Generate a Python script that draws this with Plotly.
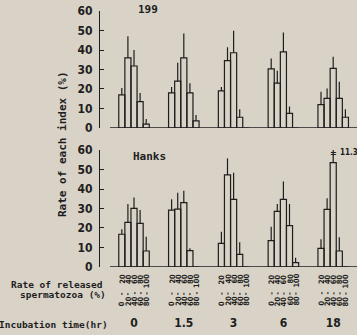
import plotly.graph_objects as go

# ---------------- data ----------------
times = ["0", "1.5", "3", "6", "18"]
range_lo = ["0", "20", "40", "60", "80"]
range_hi = ["20", "40", "60", "80", "100"]

# medium 199 : mean (%) for each released-rate class, over incubation times
m199_0_20 = [17, 18, 19, 30.3, 12]
m199_20_40 = [36, 24, 34.5, 23, 15.2]
m199_40_60 = [31.8, 36, 38.6, 39, 30.6]
m199_60_80 = [13.5, 18, 5.5, 7.5, 15.2]
m199_80_100 = [2, 3.6, 0, 0, 5.5]
sd199_0_20 = [3.5, 3, 2, 5.4, 6.6]
sd199_20_40 = [11, 9.5, 6.9, 6.4, 5.1]
sd199_40_60 = [8.2, 12.5, 11.3, 10, 6]
sd199_60_80 = [4.5, 5, 4.1, 3.5, 8.5]
sd199_80_100 = [2.6, 3.1, 0, 0, 4.1]

# Hanks
mh_0_20 = [16.8, 29.2, 12.1, 13.5, 9.6]
mh_20_40 = [22.9, 29.7, 47.2, 28.5, 29.6]
mh_40_60 = [30.1, 33, 34.7, 34.7, 53.5]
mh_60_80 = [22.4, 8.4, 6.5, 21.2, 8.2]
mh_80_100 = [8.2, 0, 0, 2.2, 0]
sdh_0_20 = [2.5, 5.5, 6, 7.2, 4.6]
sdh_20_40 = [9.4, 8.4, 8.5, 3.8, 5.6]
sdh_40_60 = [5.6, 6.1, 13.7, 9.1, 11.3]
sdh_60_80 = [6.8, 1.2, 6.2, 11.1, 7]
sdh_80_100 = [7.3, 0, 0, 2.6, 0]

y_ticks = [0, 10, 20, 30, 40, 50, 60]
clipped_sd_label = "11.3"

# ---------------- style ----------------
BG = "#d9d2c7"
INK = "#1e1e1e"
NARROW = "Liberation Sans Narrow, DejaVu Sans Condensed, Arial Narrow, sans-serif"
MONO = "DejaVu Sans Mono, Liberation Mono, monospace"
BARGAP = 0.3875
W = (1 - BARGAP) / 5

panels = [
    ([m199_0_20, m199_20_40, m199_40_60, m199_60_80, m199_80_100],
     [sd199_0_20, sd199_20_40, sd199_40_60, sd199_60_80, sd199_80_100], "x", "y"),
    ([mh_0_20, mh_20_40, mh_40_60, mh_60_80, mh_80_100],
     [sdh_0_20, sdh_20_40, sdh_40_60, sdh_60_80, sdh_80_100], "x2", "y2"),
]

fig = go.Figure()
for means, sds, xa, ya in panels:
    for k in range(5):
        fig.add_trace(go.Bar(
            x=times, y=means[k], xaxis=xa, yaxis=ya,
            name=range_lo[k] + "-" + range_hi[k], showlegend=False,
            marker=dict(color="rgba(0,0,0,0)", line=dict(color=INK, width=1.2)),
            error_y=dict(type="data", symmetric=False, array=sds[k],
                         arrayminus=[0] * len(times), width=0,
                         thickness=1.2, color=INK),
        ))

XR = [-0.683, 4.478]
axis_x = dict(type="category", range=XR, showgrid=False, zeroline=False,
              showline=False, ticks="")
axis_y = dict(range=[0, 60], tickvals=y_ticks, showgrid=False, zeroline=False,
              showline=True, linecolor=INK, linewidth=1.3, ticks="inside",
              ticklen=4, tickwidth=1.3, tickcolor=INK,
              tickfont=dict(family=NARROW, size=12, color=INK, weight="bold"),
              ticklabelstandoff=4)

fig.update_layout(
    width=357, height=335,
    margin=dict(l=100, r=0, t=11, b=68),
    paper_bgcolor=BG, plot_bgcolor=BG,
    barmode="group", bargap=BARGAP, bargroupgap=0,
    xaxis=dict(axis_x, anchor="y", showticklabels=False),
    xaxis2=dict(axis_x, anchor="y2", showticklabels=True,
                tickfont=dict(family=NARROW, size=12, color=INK, weight="bold"),
                ticklabelstandoff=47),
    yaxis=dict(axis_y, domain=[0.543, 1], anchor="x"),
    yaxis2=dict(axis_y, domain=[0, 0.457], anchor="x2"),
)

# baselines (start a little to the right of the y axis, as in the original)
for xr, yr in [("x domain", "y"), ("x2 domain", "y2")]:
    fig.add_shape(type="line", xref=xr, yref=yr, x0=10 / 257, x1=1, y0=0, y1=0,
                  line=dict(color=INK, width=1.3))

ann = []
fs = dict(family=MONO, color=INK, weight="bold")
ann.append(dict(text="199", xref="x", yref="paper", x=0.29, y=1.004,
                xanchor="center", yanchor="middle",
                showarrow=False, font=dict(fs, size=11)))
ann.append(dict(text="Hanks", xref="x2", yref="paper", x=0.32, y=0.43,
                xanchor="center", yanchor="middle",
                showarrow=False, font=dict(fs, size=11)))
ann.append(dict(text="Rate of each index (%)", xref="paper", yref="paper",
                x=-0.148, y=0.48, textangle=-90, showarrow=False,
                xanchor="center", yanchor="middle",
                font=dict(fs, size=11)))
ann.append(dict(text="Rate of released", xref="paper", yref="paper",
                x=0.0195, y=-0.070, xanchor="right", yanchor="middle",
                showarrow=False, font=dict(fs, size=9.5)))
ann.append(dict(text="spermatozoa (%)", xref="paper", yref="paper",
                x=0.031, y=-0.109, xanchor="right", yanchor="middle",
                showarrow=False, font=dict(fs, size=9.5)))
ann.append(dict(text="Incubation time(hr)", xref="paper", yref="paper",
                x=0.039, y=-0.223, xanchor="right", yanchor="middle",
                showarrow=False, font=dict(fs, size=9.5)))

# rotated class labels under every bar slot
small = dict(family=NARROW, size=7.5, color=INK, weight="bold")
for i in range(len(times)):
    for k in range(5):
        xc = i + (k - 2) * W
        ann.append(dict(text=range_hi[k], xref="x2", yref="paper", x=xc,
                        y=(267 - 273) / 256, yanchor="top", xanchor="center",
                        textangle=-90, showarrow=False, font=small,
                        borderpad=0))
        ann.append(dict(text="-", xref="x2", yref="paper", x=xc,
                        y=(267 - 293.5) / 256, yanchor="middle", xanchor="center",
                        textangle=-90, showarrow=False, font=small, borderpad=0))
        ann.append(dict(text=range_lo[k], xref="x2", yref="paper", x=xc,
                        y=(267 - 307) / 256, yanchor="bottom", xanchor="center",
                        textangle=-90, showarrow=False, font=small, borderpad=0))

# clipped error bar marker
ann.append(dict(text="=", xref="x2", yref="y2", x=4, y=58.6, showarrow=False,
                xanchor="center", yanchor="middle",
                font=dict(family=NARROW, size=9, color=INK, weight="bold")))
ann.append(dict(text=clipped_sd_label, xref="x2", yref="y2", x=4.11, y=58.6,
                xanchor="left", yanchor="middle", showarrow=False, borderpad=0,
                font=dict(family=NARROW, size=8, color=INK, weight="bold")))

fig.update_layout(annotations=ann)
fig.write_html("out.html", config={"displayModeBar": False},
               post_script="document.body.style.margin='0';"
                           "document.body.style.overflow='hidden';")
